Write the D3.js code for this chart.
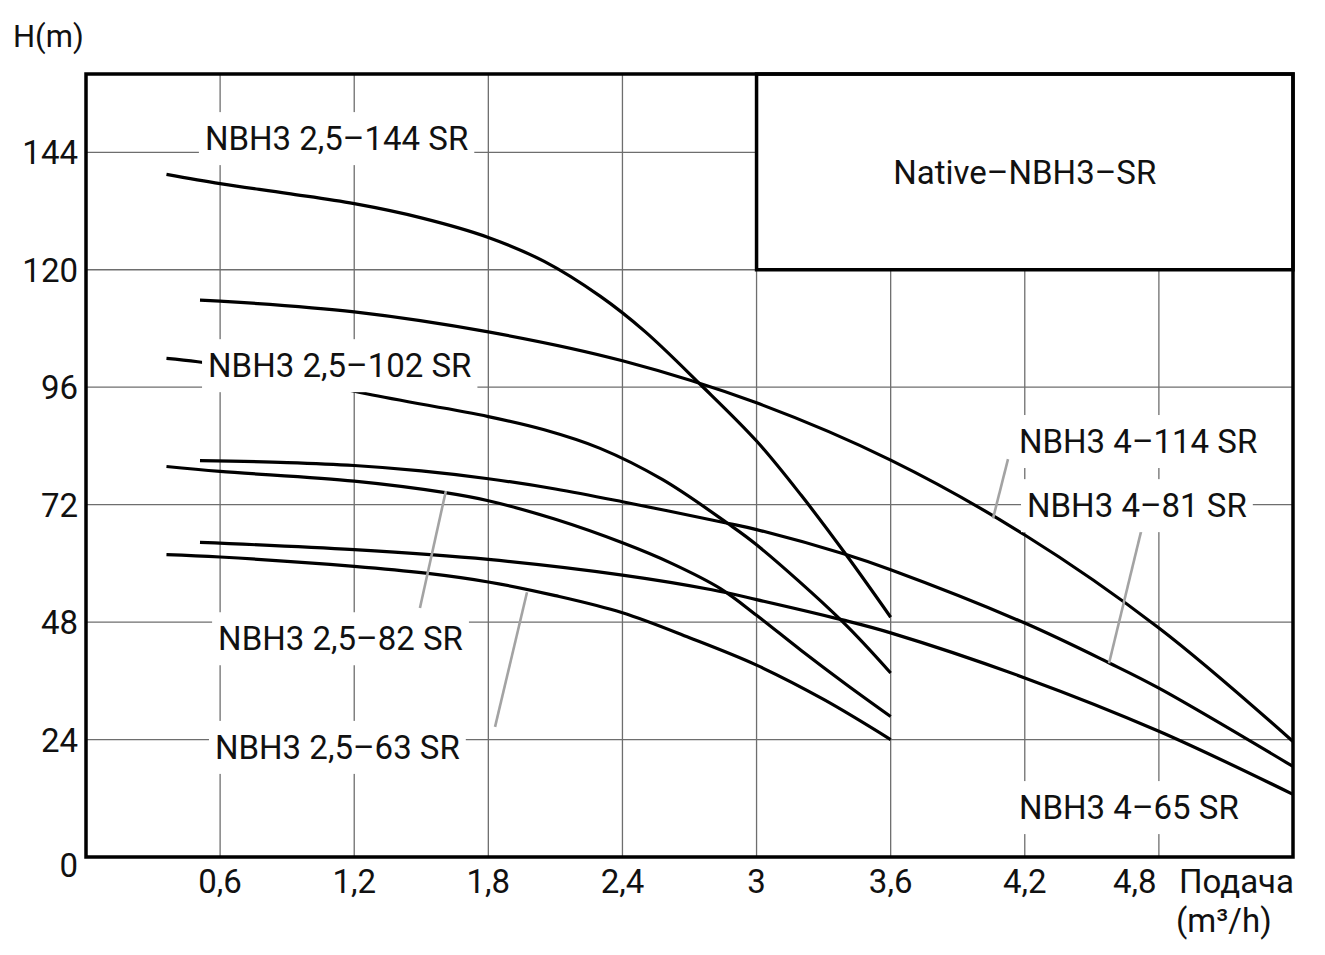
<!DOCTYPE html>
<meta charset="utf-8">
<style>
body { margin: 0; background: #fff; }
svg { font-family: Roboto, "Noto Sans", sans-serif; }
.grid line { stroke: #6e6e6e; stroke-width: 1.3px; }
.curve { fill: none; stroke: #000; stroke-width: 3.2px; stroke-linejoin: round; }
.leader { stroke: #a3a3a3; stroke-width: 2.6px; }
.frame { fill: none; stroke: #000; stroke-width: 3.5px; }
.tick { font-size: 33px; fill: #111; }
.lbl { font-size: 33px; fill: #111; }
</style>
<svg width="1325" height="955"></svg>
<script src="https://d3js.org/d3.v7.min.js"></script>
<script>
// axis ticks
var xTicks = [0.6, 1.2, 1.8, 2.4, 3, 3.6, 4.2, 4.8];
var yTicks = [0, 24, 48, 72, 96, 120, 144];

// curve names
var names = ["NBH3 2,5–144 SR", "NBH3 4–114 SR", "NBH3 2,5–102 SR", "NBH3 4–81 SR",
             "NBH3 2,5–82 SR", "NBH3 4–65 SR", "NBH3 2,5–63 SR"];

// Q (m3/h) and H (m)
var q144 = [0.36, 0.6, 0.9, 1.2, 1.5, 1.8, 2.05, 2.3, 2.5, 2.75, 3.0, 3.2, 3.4, 3.6];
var h144 = [139.5, 137.6, 135.6, 133.5, 130.6, 126.6, 121.7, 114.6, 107.4, 96.5, 85.0, 73.9, 61.8, 49.0];

var q114 = [0.51, 0.6, 1.2, 1.8, 2.4, 3.0, 3.6, 4.2, 4.8, 5.4];
var h114 = [113.8, 113.6, 111.4, 107.3, 101.4, 92.8, 81.1, 65.8, 46.8, 23.6];

var q102 = [0.36, 0.5, 0.9, 1.26, 1.8, 2.05, 2.3, 2.58, 2.87, 3.0, 3.38, 3.6];
var h102 = [101.9, 101.2, 98.3, 94.6, 90.0, 87.3, 83.5, 77.1, 68.2, 63.8, 48.3, 37.6];

var q81 = [0.51, 0.9, 1.2, 1.5, 1.8, 2.1, 2.4, 2.87, 3.0, 3.4, 3.6, 4.2, 4.58, 4.8, 5.4];
var h81 = [81.0, 80.6, 80.0, 78.9, 77.3, 75.2, 72.6, 68.2, 66.9, 61.8, 58.7, 47.8, 39.6, 34.5, 18.5];

var q82 = [0.36, 0.6, 1.2, 1.6, 1.8, 2.1, 2.4, 2.62, 2.84, 3.0, 3.2, 3.4, 3.6];
var h82 = [79.8, 78.8, 76.8, 74.5, 72.8, 69.0, 64.2, 60.0, 54.8, 49.4, 42.2, 35.3, 28.7];

var q65 = [0.51, 1.2, 1.8, 2.4, 2.8, 3.0, 3.38, 3.6, 4.2, 4.8, 5.4];
var h65 = [64.3, 62.8, 60.8, 57.6, 54.6, 52.6, 48.5, 45.8, 36.6, 25.7, 12.8];

var q63 = [0.36, 0.6, 1.2, 1.52, 1.8, 2.1, 2.4, 2.7, 3.0, 3.3, 3.6];
var h63 = [61.8, 61.3, 59.4, 58.0, 56.2, 53.4, 49.9, 44.8, 39.2, 32.2, 24.0];

var curves = [[q144, h144], [q114, h114], [q102, h102], [q81, h81], [q82, h82], [q65, h65], [q63, h63]]
    .map(function(c, i) {
        return {name: names[i], pts: c[0].map(function(q, j) { return {q: q, h: c[1][j]}; })};
    });

// label anchors (left x, middle y) in data units, and leader lines
var labels = [
    {name: names[0], q: 0.532, h: 146.9},
    {name: names[2], q: 0.546, h: 100.5},
    {name: names[4], q: 0.591, h: 44.7},
    {name: names[6], q: 0.577, h: 22.5},
    {name: names[1], q: 4.174, h: 85.0},
    {name: names[3], q: 4.21, h: 71.9},
    {name: names[5], q: 4.174, h: 10.2}
];
var leaders = [
    [1.494, 50.9, 1.61, 74.8],
    [1.83, 26.6, 1.973, 54.1],
    [4.125, 81.3, 4.058, 69.2],
    [4.725, 67.4, 4.577, 39.6]
];

var svg = d3.select("svg");
var x = d3.scaleLinear().domain([0, 5.4]).range([86, 1293]);
var y = d3.scaleLinear().domain([0, 160]).range([857, 74]);
var fmt = d3.formatLocale({decimal: ",", thousands: " ", grouping: [3], currency: ["", ""]}).format("~g");

// grid
var grid = svg.append("g").attr("class", "grid");
grid.selectAll(".v").data(xTicks).enter().append("line")
    .attr("x1", function(d) { return x(d); }).attr("x2", function(d) { return x(d); })
    .attr("y1", y(0)).attr("y2", y(160));
grid.selectAll(".h").data(yTicks.slice(1)).enter().append("line")
    .attr("x1", x(0)).attr("x2", x(5.4))
    .attr("y1", function(d) { return y(d); }).attr("y2", function(d) { return y(d); });

// title box
svg.append("rect")
    .attr("x", x(3)).attr("y", y(160))
    .attr("width", x(5.4) - x(3)).attr("height", y(120) - y(160))
    .attr("fill", "#fff").attr("stroke", "#000").attr("stroke-width", 3.5);
svg.append("text").attr("class", "lbl")
    .attr("x", (x(3) + x(5.4)) / 2).attr("y", y(140) + 12)
    .attr("text-anchor", "middle")
    .text("Native–NBH3–SR");

// curves
var line = d3.line()
    .curve(d3.curveCatmullRom.alpha(0.5))
    .x(function(d) { return x(d.q); })
    .y(function(d) { return y(d.h); });
svg.append("g").selectAll("path").data(curves).enter().append("path")
    .attr("class", "curve")
    .attr("d", function(d) { return line(d.pts); });

// leaders
svg.append("g").selectAll("line").data(leaders).enter().append("line")
    .attr("class", "leader")
    .attr("x1", function(d) { return x(d[0]); }).attr("y1", function(d) { return y(d[1]); })
    .attr("x2", function(d) { return x(d[2]); }).attr("y2", function(d) { return y(d[3]); });

// curve labels with white backing
var lg = svg.append("g").selectAll("g").data(labels).enter().append("g");
var bgs = lg.append("rect").attr("fill", "#fff");
var txts = lg.append("text").attr("class", "lbl")
    .attr("x", function(d) { return x(d.q); })
    .attr("y", function(d) { return y(d.h) + 12; })
    .text(function(d) { return d.name; });
txts.each(function(d, i) {
    var b = this.getBBox();
    d3.select(bgs.nodes()[i])
        .attr("x", b.x - 6).attr("y", b.y - 7)
        .attr("width", b.width + 12).attr("height", b.height + 14);
});

// frame
svg.append("rect").attr("class", "frame")
    .attr("x", x(0)).attr("y", y(160))
    .attr("width", x(5.4) - x(0)).attr("height", y(0) - y(160));

// tick labels
svg.append("g").selectAll("text").data(yTicks).enter().append("text")
    .attr("class", "tick")
    .attr("x", 78)
    .attr("y", function(d) { return y(d) + 12 + (d === 0 ? 8 : 0); })
    .attr("text-anchor", "end")
    .text(function(d) { return d; });
svg.append("g").selectAll("text").data(xTicks).enter().append("text")
    .attr("class", "tick")
    .attr("x", function(d) { return x(d); })
    .attr("y", y(0) + 36)
    // last tick sits left of its line to leave room for the axis name
    .attr("dx", function(d, i) { return i === xTicks.length - 1 ? -24 : 0; })
    .attr("text-anchor", "middle")
    .text(function(d) { return fmt(d); });

// axis titles
svg.append("text").attr("class", "tick")
    .style("font-size", "31px")
    .attr("x", 13).attr("y", 47).text("H(m)");
svg.append("text").attr("class", "tick")
    .attr("x", 1294).attr("y", y(0) + 36).attr("text-anchor", "end")
    .text("Подача");
svg.append("text").attr("class", "tick")
    .attr("x", 1176).attr("y", y(0) + 75)
    .text("(m³/h)");
</script>
